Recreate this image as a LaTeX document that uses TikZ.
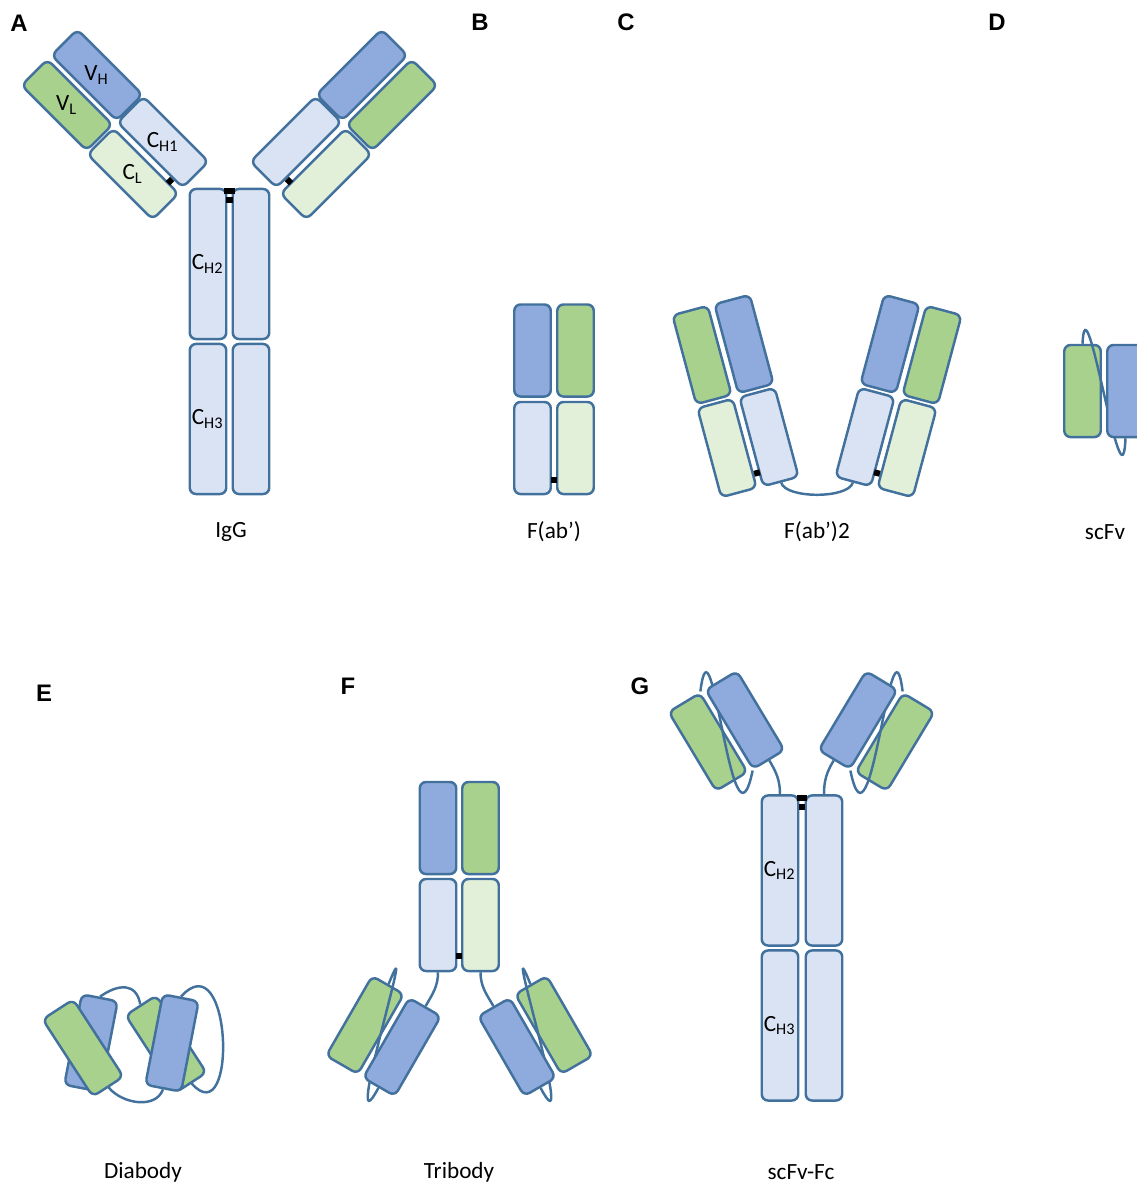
\documentclass[tikz,border=0pt]{standalone}
\usepackage{fontspec}
\setmainfont{Carlito}
\setsansfont{Liberation Sans}
\usepackage{xcolor}
\usetikzlibrary{calc,positioning,arrows,shapes.geometric}
\definecolor{edge}{HTML}{41719C}
\definecolor{vhc}{HTML}{8FAADC}
\definecolor{vlc}{HTML}{A9D18E}
\definecolor{chc}{HTML}{DAE3F3}
\definecolor{clc}{HTML}{E2F0D9}
\pgfdeclarelayer{back}
\pgfdeclarelayer{mid}
\pgfsetlayers{back,mid,main}

\begin{document}
\begin{tikzpicture}[x=0.01cm,y=0.01cm,
  dom/.style={draw=edge,line width=0.7pt,rounded corners=1.8pt,inner sep=0pt,
    minimum width=0.365cm,minimum height=0.92cm,font=\fontsize{6.6}{7}\selectfont},
  fc/.style={dom,fill=chc,minimum height=1.5cm},
  vh/.style={dom,fill=vhc},
  vl/.style={dom,fill=vlc},
  ch1/.style={dom,fill=chc},
  cl/.style={dom,fill=clc},
  lab/.style={inner sep=0pt,font=\fontsize{6.6}{7}\selectfont},
  pan/.style={inner sep=0pt,font=\sffamily\bfseries\fontsize{6.8}{7}\selectfont},
  ss/.style={fill=black,inner sep=0pt,minimum width=0.06cm,minimum height=0.06cm},
  lnk/.style={draw=edge,line width=0.7pt}]
\clip (0,0) rectangle (1137,-1184);
\node[pan] (pA) at (19,-23) {A};
\node[pan] (pB) at (480,-22) {B};
\node[pan] (pC) at (626,-22) {C};
\node[pan] (pD) at (997,-22) {D};
\node[pan] (pE) at (44,-693) {E};
\node[pan] (pF) at (348,-686) {F};
\node[pan] (pG) at (640,-686) {G};

\node[fc] (aCH2l) at (208,-264) {C\textsubscript{H2}};
\node[fc] (aCH2r) at (251,-264) {};
\node[fc] (aCH3l) at (208,-419) {C\textsubscript{H3}};
\node[fc] (aCH3r) at (251,-419) {};
\node[vh,rotate=45] (aVHl) at (97,-75) {};
\node[ch1,rotate=45] (aCH1l) at (163,-142) {};
\node[vl,rotate=45] (aVLl) at (67,-105) {};
\node[cl,rotate=45] (aCLl) at (133,-174) {};
\node[vh,rotate=-45] (aVHr) at (362,-75) {};
\node[ch1,rotate=-45] (aCH1r) at (296,-142) {};
\node[vl,rotate=-45] (aVLr) at (392,-105) {};
\node[cl,rotate=-45] (aCLr) at (326,-174) {};
\node[lab] (tVH) at (aVHl) {V\textsubscript{H}};
\node[lab] (tVL) at (aVLl) {V\textsubscript{L}};
\node[lab] (tCH1) at (aCH1l) {C\textsubscript{H1}};
\node[lab] (tCL) at (aCLl) {C\textsubscript{L}};
\node[ss,rotate=45] (aSSl) at (170,-181) {};
\node[ss,rotate=-45] (aSSr) at (289,-181) {};
\node[ss,minimum width=0.1cm] (aHng1) at (229.5,-191) {};
\node[ss] (aHng2) at (229.5,-200) {};

\node[vh] (bVH) at (532.5,-350.5) {};
\node[vl] (bVL) at (575.5,-350.5) {};
\node[ch1] (bCH1) at (532.5,-448) {};
\node[cl] (bCL) at (575.5,-448) {};
\node[ss] (bSS) at (554,-480) {};

\node[vl,rotate=15] (cVLl) at (702,-355) {};
\node[vh,rotate=15] (cVHl) at (744,-344) {};
\node[cl,rotate=15] (cCLl) at (727,-448) {};
\node[ch1,rotate=15] (cCH1l) at (769,-437) {};
\node[vl,rotate=-15] (cVLr) at (932,-355) {};
\node[vh,rotate=-15] (cVHr) at (890,-344) {};
\node[cl,rotate=-15] (cCLr) at (907,-448) {};
\node[ch1,rotate=-15] (cCH1r) at (865,-437) {};
\node[ss,rotate=15] (cSSl) at (757,-473) {};
\node[ss,rotate=-15] (cSSr) at (877,-473) {};

\begin{pgfonlayer}{back}
\node[vl] (dVL) at (1082.5,-391) {};
\node[vl,rotate=-30] (fLVL) at (365,-1025) {};
\node[vl,rotate=30] (fRVL) at (554,-1025) {};
\node[vl,rotate=31] (gLVL) at (708,-742) {};
\node[vl,rotate=-31] (gRVL) at (895,-742) {};
\end{pgfonlayer}
\node[vh] (dVH) at (1125.5,-391) {};

\node[vh,rotate=-11] (eLVH) at (91,-1043) {};
\node[vl,rotate=33] (eRVL) at (166,-1044) {};
\node[vl,rotate=33] (eLVL) at (83,-1048) {};
\node[vh,rotate=-11] (eRVH) at (172,-1043) {};

\node[vh] (fVH) at (438,-828) {};
\node[vl] (fVL) at (480.5,-828) {};
\node[ch1] (fCH1) at (438,-925) {};
\node[cl] (fCL) at (480.5,-925) {};
\node[ss] (fSS) at (459,-956) {};
\node[vh,rotate=-30] (fLVH) at (402,-1047) {};
\node[vh,rotate=30] (fRVH) at (517,-1047) {};

\node[fc] (gCH2l) at (780,-870.5) {C\textsubscript{H2}};
\node[fc] (gCH2r) at (824,-870.5) {};
\node[fc] (gCH3l) at (780,-1025.5) {C\textsubscript{H3}};
\node[fc] (gCH3r) at (824,-1025.5) {};
\node[ss,minimum width=0.1cm] (gHng1) at (802,-798) {};
\node[ss] (gHng2) at (802,-807) {};
\node[vh,rotate=31] (gLVH) at (745,-720) {};
\node[vh,rotate=-31] (gRVH) at (858,-720) {};

\begin{pgfonlayer}{mid}
\draw[lnk] (cCH1l.south) to[out=-75,in=-105,looseness=0.6] (cCH1r.south);
\draw[lnk] (dVL.north) .. controls (1086,-270) and (1122,-520) .. (dVH.south);
\draw[lnk] (eLVH.north) to[out=35,in=100,looseness=1.4] (eRVL.north);
\draw[lnk] (eLVL.south) to[out=-50,in=-110] (eRVH.south);
\draw[lnk] (eRVH.north) .. controls (232,-940) and (238,-1135) .. (eRVL.south);
\draw[lnk] (fCH1.south) to[out=-90,in=60] (fLVH.north);
\draw[lnk] (fCL.south) to[out=-90,in=120] (fRVH.north);
\draw[lnk] (fLVL.north) .. controls (420,-905) and (340,-1160) .. (fLVH.south);
\draw[lnk] (fRVL.north) .. controls (499,-905) and (579,-1160) .. (fRVH.south);
\draw[lnk] (gLVH.south) to[out=-59,in=90] (gCH2l.north);
\draw[lnk] (gRVH.south) to[out=-121,in=90] (gCH2r.north);
\draw[lnk] (gLVL.north east) .. controls (712,-600) and (732,-870) .. (gLVH.south west);
\draw[lnk] (gRVL.north west) .. controls (891,-600) and (871,-870) .. (gRVH.south east);
\end{pgfonlayer}

\node[lab] (nIgG) at (231,-532) {IgG};
\node[lab] (nFab) at (554,-532) {F(ab’)};
\node[lab] (nFab2) at (817,-532) {F(ab’)2};
\node[lab] (nscFv) at (1105,-532) {scFv};
\node[lab] (nDia) at (143,-1172) {Diabody};
\node[lab] (nTri) at (459,-1172) {Tribody};
\node[lab] (nFc) at (801,-1172) {scFv-Fc};
\end{tikzpicture}
\end{document}
